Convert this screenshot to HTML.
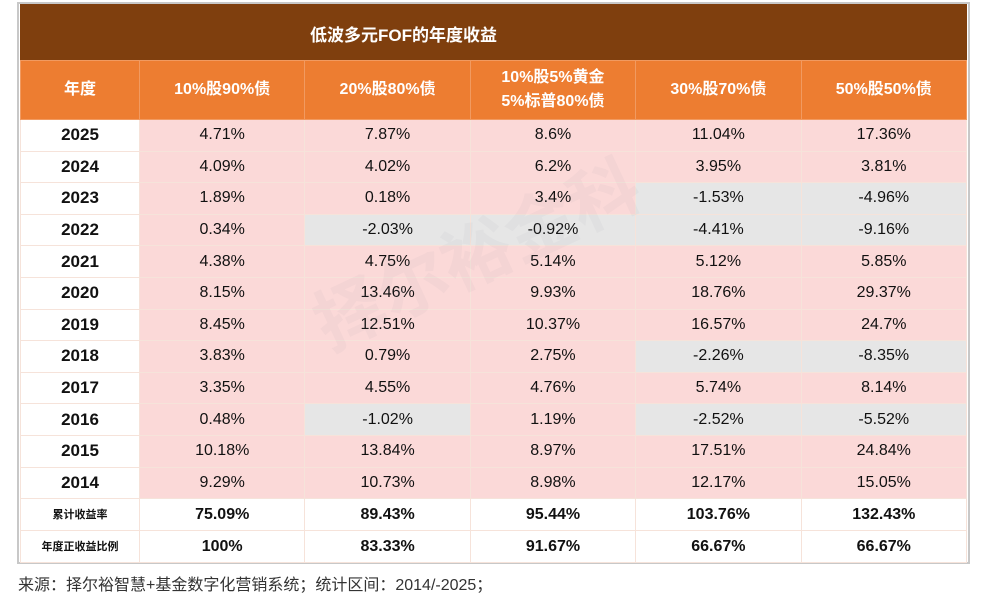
<!DOCTYPE html>
<html><head><meta charset="utf-8"><style>
body{margin:0;width:987px;height:608px;background:#fff;font-family:"Liberation Sans","Noto Sans CJK SC",sans-serif;position:relative;overflow:hidden}
#frame{position:absolute;left:17px;top:2px;width:949px;height:558px;border:2px solid #c8c8c8;background:#fff}
#title{position:absolute;left:20px;top:4px;width:947px;height:56px;background:#7f3f0e;color:#fff;font-weight:bold;font-size:17px}
#title span{position:absolute;left:290px;top:17px}
table{position:absolute;left:20px;top:60px;border-collapse:collapse;table-layout:fixed;width:947px}
td{padding:0;text-align:center;border:1px solid #f6e3da;font-size:16px;color:#111;height:30.6px;line-height:30px}
tr.h td{background:#ed7d31;color:#fff;font-weight:bold;height:58px;line-height:24px;border:1px solid #f19a60}
td.y{font-weight:bold;font-size:17px;background:#fff}
td.p{background:#fbd9d8}
td.g{background:#e6e6e6}
tr.s td{background:#fff;font-weight:bold;font-size:16px;height:31px}
tr.s td.l{font-size:11px}
#src{position:absolute;left:18px;top:571px;font-size:16px;color:#333}
#wm{position:absolute;left:300px;top:200px;font-size:70px;font-weight:bold;color:rgba(150,150,170,0.07);transform:rotate(-25deg)}
</style></head><body>
<div id="frame"></div>
<div id="title"><span>低波多元FOF的年度收益</span></div>
<table>
<colgroup><col style="width:119px"><col><col><col><col><col></colgroup>
<tr class="h"><td>年度</td><td>10%股90%债</td><td>20%股80%债</td><td>10%股5%黄金<br>5%标普80%债</td><td>30%股70%债</td><td>50%股50%债</td></tr>
<tr><td class="y">2025</td><td class="p">4.71%</td><td class="p">7.87%</td><td class="p">8.6%</td><td class="p">11.04%</td><td class="p">17.36%</td></tr>
<tr><td class="y">2024</td><td class="p">4.09%</td><td class="p">4.02%</td><td class="p">6.2%</td><td class="p">3.95%</td><td class="p">3.81%</td></tr>
<tr><td class="y">2023</td><td class="p">1.89%</td><td class="p">0.18%</td><td class="p">3.4%</td><td class="g">-1.53%</td><td class="g">-4.96%</td></tr>
<tr><td class="y">2022</td><td class="p">0.34%</td><td class="g">-2.03%</td><td class="g">-0.92%</td><td class="g">-4.41%</td><td class="g">-9.16%</td></tr>
<tr><td class="y">2021</td><td class="p">4.38%</td><td class="p">4.75%</td><td class="p">5.14%</td><td class="p">5.12%</td><td class="p">5.85%</td></tr>
<tr><td class="y">2020</td><td class="p">8.15%</td><td class="p">13.46%</td><td class="p">9.93%</td><td class="p">18.76%</td><td class="p">29.37%</td></tr>
<tr><td class="y">2019</td><td class="p">8.45%</td><td class="p">12.51%</td><td class="p">10.37%</td><td class="p">16.57%</td><td class="p">24.7%</td></tr>
<tr><td class="y">2018</td><td class="p">3.83%</td><td class="p">0.79%</td><td class="p">2.75%</td><td class="g">-2.26%</td><td class="g">-8.35%</td></tr>
<tr><td class="y">2017</td><td class="p">3.35%</td><td class="p">4.55%</td><td class="p">4.76%</td><td class="p">5.74%</td><td class="p">8.14%</td></tr>
<tr><td class="y">2016</td><td class="p">0.48%</td><td class="g">-1.02%</td><td class="p">1.19%</td><td class="g">-2.52%</td><td class="g">-5.52%</td></tr>
<tr><td class="y">2015</td><td class="p">10.18%</td><td class="p">13.84%</td><td class="p">8.97%</td><td class="p">17.51%</td><td class="p">24.84%</td></tr>
<tr><td class="y">2014</td><td class="p">9.29%</td><td class="p">10.73%</td><td class="p">8.98%</td><td class="p">12.17%</td><td class="p">15.05%</td></tr>
<tr class="s"><td class="l">累计收益率</td><td>75.09%</td><td>89.43%</td><td>95.44%</td><td>103.76%</td><td>132.43%</td></tr>
<tr class="s"><td class="l">年度正收益比例</td><td>100%</td><td>83.33%</td><td>91.67%</td><td>66.67%</td><td>66.67%</td></tr>
</table>
<div id="wm">择尔裕金科</div>
<div id="src">来源：择尔裕智慧+基金数字化营销系统；统计区间：2014/-2025；</div>
</body></html>
